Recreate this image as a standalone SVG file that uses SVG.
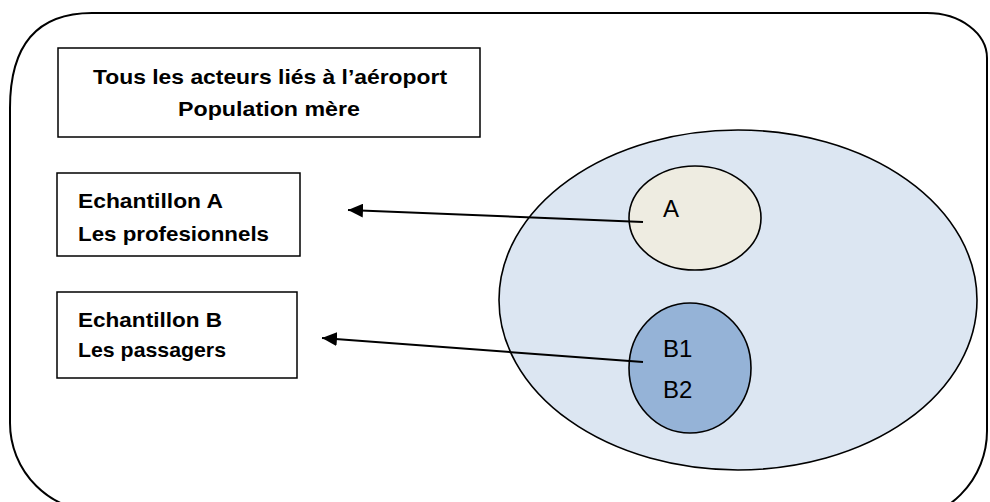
<svg xmlns="http://www.w3.org/2000/svg" width="990" height="502" viewBox="0 0 990 502">
<defs>
<style>
.box{fill:#fff;stroke:#000;stroke-width:1.5}
.lbl{font-family:"Liberation Sans",Arial,sans-serif;font-weight:bold;font-size:20.5px;fill:#000}
.in{font-family:"Liberation Sans",Arial,sans-serif;font-size:24px;fill:#000}
.el{stroke:#000;stroke-width:1.6}
.conn{stroke:#000;stroke-width:2;fill:none}
</style>
<marker id="ah" markerUnits="userSpaceOnUse" markerWidth="16" markerHeight="14" refX="15" refY="7" orient="auto">
<path d="M0,0 L15,7 L0,14 Z" fill="#000"/>
</marker>
</defs>
<rect width="990" height="502" fill="#fff"/>
<g id="frame">
<path d="M100,512 A90,89 0 0 1 10,423 L10,108 Q10,13 92,13 L927,13 A60,45 0 0 1 987,58 L987,431 A90,90 0 0 1 897,521" fill="none" stroke="#000" stroke-width="2"/>
</g>
<g id="population">
<rect class="box" x="58" y="48" width="422" height="89"/>
<text class="lbl" x="93" y="84" textLength="354" lengthAdjust="spacingAndGlyphs">Tous les acteurs liés à l’aéroport</text>
<text class="lbl" x="178" y="116" textLength="182" lengthAdjust="spacingAndGlyphs">Population mère</text>
</g>
<g id="echA">
<rect class="box" x="57" y="173" width="243" height="83"/>
<text class="lbl" x="78" y="208" textLength="145" lengthAdjust="spacingAndGlyphs">Echantillon A</text>
<text class="lbl" x="78" y="241" textLength="191" lengthAdjust="spacingAndGlyphs">Les profesionnels</text>
</g>
<g id="echB">
<rect class="box" x="57" y="292" width="240" height="86"/>
<text class="lbl" x="78" y="327" textLength="144" lengthAdjust="spacingAndGlyphs">Echantillon B</text>
<text class="lbl" x="78" y="357" textLength="148" lengthAdjust="spacingAndGlyphs">Les passagers</text>
</g>
<g id="bigcircle">
<ellipse class="el" cx="738" cy="300" rx="239" ry="170" fill="#DCE6F2"/>
</g>
<g id="circleA">
<ellipse class="el" cx="695" cy="218" rx="66" ry="52" fill="#EEECE1"/>
<text class="in" x="663" y="217">A</text>
</g>
<g id="circleB">
<ellipse class="el" cx="690" cy="368" rx="61" ry="65" fill="#95B3D7"/>
<text class="in" x="663" y="357">B1</text>
<text class="in" x="663" y="398">B2</text>
</g>
<g id="connectors">
<line class="conn" x1="643" y1="222" x2="348" y2="210" marker-end="url(#ah)"/>
<line class="conn" x1="643" y1="362" x2="322" y2="338" marker-end="url(#ah)"/>
</g>
</svg>
